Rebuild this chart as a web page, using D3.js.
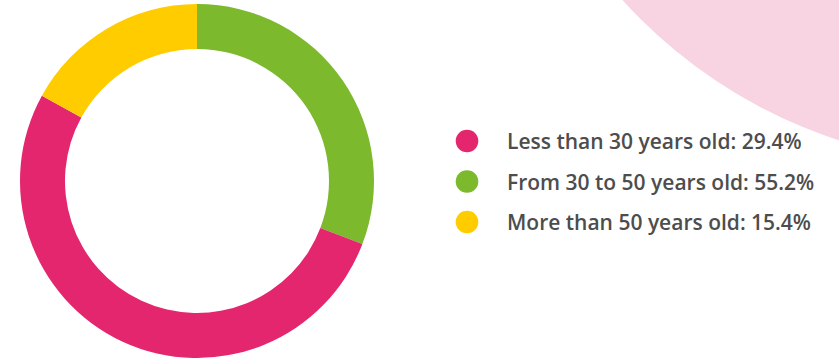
<!DOCTYPE html>
<html>
<head>
<meta charset="utf-8">
<script src="https://cdn.jsdelivr.net/npm/d3@7"></script>
<style>
  body { margin: 0; background: #fff; }
  svg { display: block; }
</style>
</head>
<body>
<div id="chart"></div>
<script>
// arc shares as drawn in the ring (clockwise from 12 o'clock)
const arcGroups = ["30 to 50", "under 30", "over 50"];
const arcValues = [30.8, 52.2, 17.0];
const arcColors = ["#7cb92c", "#e4266f", "#ffcc00"];

// legend entries
const legendLabels = ["Less than 30 years old: 29.4%", "From 30 to 50 years old: 55.2%", "More than 50 years old: 15.4%"];
const legendColors = ["#e4266f", "#7cb92c", "#ffcc00"];

const width = 839, height = 359;

const svg = d3.select("#chart").append("svg")
    .attr("width", width)
    .attr("height", height);

// decorative pink disc in the corner
svg.append("circle")
    .attr("cx", 994)
    .attr("cy", -336)
    .attr("r", 501)
    .attr("fill", "#f8d4e3");

const donut = svg.append("g")
    .attr("transform", "translate(197,181)");

const pie = d3.pie().sort(null).value(d => d);
const arc = d3.arc().innerRadius(132).outerRadius(177);

donut.selectAll("path")
    .data(pie(arcValues))
    .enter().append("path")
    .attr("d", arc)
    .attr("fill", (d, i) => arcColors[i]);

const y = d3.scalePoint()
    .domain(legendLabels)
    .range([141, 222]);

const legend = svg.append("g");

legend.selectAll("circle")
    .data(legendLabels)
    .enter().append("circle")
    .attr("cx", 467)
    .attr("cy", d => y(d))
    .attr("r", 11.3)
    .attr("fill", (d, i) => legendColors[i]);

legend.selectAll("text")
    .data(legendLabels)
    .enter().append("text")
    .attr("x", 507)
    .attr("y", d => y(d) + 8)
    .attr("fill", "#4d4d4d")
    .style("font-family", "'Open Sans', sans-serif")
    .style("font-weight", 600)
    .style("font-size", "21px")
    .text(d => d);
</script>
</body>
</html>
